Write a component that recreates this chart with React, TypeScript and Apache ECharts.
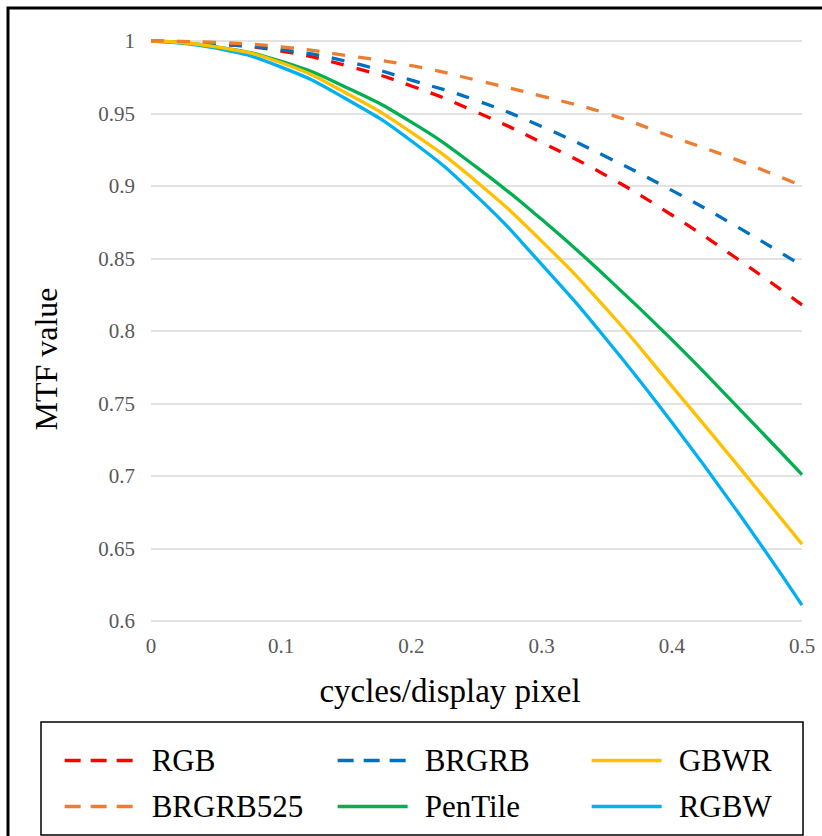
import React, { useEffect, useRef } from "react";
import * as echarts from "echarts";

const xValues = [0, 0.05, 0.1, 0.15, 0.2, 0.25, 0.3, 0.35, 0.4, 0.45, 0.5];
const rgb = [1, 0.998, 0.993, 0.983, 0.969, 0.951, 0.93, 0.907, 0.88, 0.85, 0.818];
const brgrb = [1, 0.998, 0.994, 0.986, 0.973, 0.959, 0.941, 0.92, 0.897, 0.872, 0.845];
const brgrb525 = [1, 0.999, 0.996, 0.99, 0.983, 0.973, 0.962, 0.95, 0.934, 0.918, 0.9];
const pentile = [1, 0.996, 0.986, 0.968, 0.944, 0.913, 0.877, 0.837, 0.794, 0.748, 0.701];
const gbwr = [1, 0.996, 0.985, 0.964, 0.937, 0.903, 0.862, 0.815, 0.762, 0.708, 0.653];
const rgbw = [1, 0.995, 0.982, 0.96, 0.931, 0.893, 0.846, 0.794, 0.737, 0.676, 0.611];

const yTickMin = 0.6;
const yTickMax = 1;
const yTickStep = 0.05;
const xTickMin = 0;
const xTickMax = 0.5;
const xTickStep = 0.1;

const xTitle = "cycles/display pixel";
const yTitle = "MTF value";

const seriesDefs = [
  { name: "RGB", values: rgb, color: "#FF0000", dashed: true },
  { name: "BRGRB", values: brgrb, color: "#0070C0", dashed: true },
  { name: "GBWR", values: gbwr, color: "#FFC000", dashed: false },
  { name: "BRGRB525", values: brgrb525, color: "#ED7D31", dashed: true },
  { name: "PenTile", values: pentile, color: "#00B050", dashed: false },
  { name: "RGBW", values: rgbw, color: "#00B0F0", dashed: false },
];

const drawOrder = ["RGB", "BRGRB", "RGBW", "PenTile", "GBWR", "BRGRB525"];

const FONT = "Liberation Serif";

export default function App() {
  const ref = useRef<HTMLDivElement>(null);

  useEffect(() => {
    if (!ref.current) return;
    const chart = echarts.init(ref.current, null, { renderer: "svg" });

    const colLeft = [63, 336, 590];
    const rowCenter = [762, 808];

    const legends = seriesDefs.map((s, i) => {
      const col = i % 3;
      const row = Math.floor(i / 3);
      return {
        data: [s.name],
        left: colLeft[col],
        top: rowCenter[row] - 17,
        padding: 0,
        itemWidth: 70,
        itemHeight: 14,
        itemGap: 0,
        selectedMode: false,
        itemStyle: { opacity: 0, borderWidth: 0 },
        lineStyle: s.dashed
          ? { type: [16, 10], width: 3.3, color: s.color, opacity: 1 }
          : { width: 3.3, color: s.color, opacity: 1 },
        textStyle: {
          fontFamily: FONT,
          fontSize: 31,
          color: "#000",
          padding: [0, 0, 0, 12],
        },
      };
    });

    const series = drawOrder.map((n) => {
      const s = seriesDefs.find((d) => d.name === n)!;
      return {
        name: s.name,
        type: "line",
        smooth: true,
        symbol: "none",
        data: xValues.map((x, k) => [x, s.values[k]]),
        lineStyle: {
          color: s.color,
          width: 3.3,
          type: s.dashed ? [13, 13] : "solid",
        },
        itemStyle: { color: s.color },
      };
    });

    chart.setOption({
      animation: false,
      backgroundColor: "#fff",
      grid: { left: 151, right: 20, top: 41, bottom: 215, containLabel: false },
      xAxis: {
        type: "value",
        min: xTickMin,
        max: xTickMax,
        interval: xTickStep,
        axisLine: { show: false },
        axisTick: { show: false },
        splitLine: { show: false },
        axisLabel: { fontFamily: FONT, fontSize: 21, color: "#595959", margin: 14 },
      },
      yAxis: {
        type: "value",
        min: yTickMin,
        max: yTickMax,
        interval: yTickStep,
        axisLine: { show: false },
        axisTick: { show: false },
        splitLine: { show: true, lineStyle: { color: "#D9D9D9", width: 1.5 } },
        axisLabel: { fontFamily: FONT, fontSize: 21, color: "#595959", margin: 16 },
      },
      legend: legends,
      graphic: [
        {
          type: "rect",
          shape: { x: 8, y: 8, width: 1000, height: 1000 },
          style: { fill: "none", stroke: "#000", lineWidth: 3 },
          silent: true,
        },
        {
          type: "rect",
          shape: { x: 41, y: 722, width: 762, height: 113 },
          style: { fill: "none", stroke: "#000", lineWidth: 1.5 },
          silent: true,
        },
        {
          type: "text",
          x: 46,
          y: 359,
          rotation: Math.PI / 2,
          style: {
            text: yTitle,
            fontFamily: FONT,
            fontSize: 32,
            fill: "#000",
            align: "center",
            verticalAlign: "middle",
          },
          silent: true,
        },
        {
          type: "text",
          x: 450,
          y: 691,
          style: {
            text: xTitle,
            fontFamily: FONT,
            fontSize: 33,
            fill: "#000",
            align: "center",
            verticalAlign: "middle",
          },
          silent: true,
        },
      ],
      series,
    });

    return () => chart.dispose();
  }, []);

  return (
    <div style={{ position: "absolute", left: 0, top: 0, width: 822, height: 836 }}>
      <div ref={ref} style={{ width: 822, height: 836 }} />
    </div>
  );
}
